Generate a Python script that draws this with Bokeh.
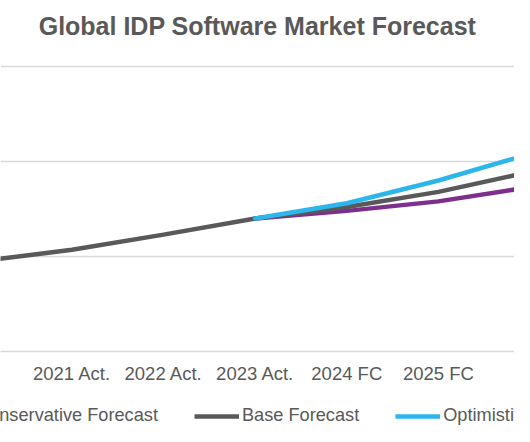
import numpy as np
from bokeh.plotting import figure
from bokeh.layouts import column
from bokeh.models import Range1d, FixedTicker, Legend, LegendItem
from bokeh.embed import file_html
from bokeh.resources import INLINE

# ---- data ----
categories = ["2020 Act.", "2021 Act.", "2022 Act.", "2023 Act.", "2024 FC", "2025 FC", "2026 FC"]
nan = np.nan
base_forecast = [0.95, 1.07, 1.23, 1.40, 1.52, 1.68, 1.89]
conservative_forecast = [nan, nan, nan, 1.40, 1.48, 1.58, 1.73]
optimistic_forecast = [nan, nan, nan, 1.40, 1.56, 1.80, 2.08]
grid_values = [1, 2, 3]

series_names = ["Conservative Forecast", "Base Forecast", "Optimistic Forecast"]
series_colors = ["#7E2F8E", "#595959", "#2DB6EC"]

x = list(range(len(categories)))

FONT = "Liberation Sans"
TXT = "#595959"

p = figure(width=514, height=386, output_backend="svg", toolbar_location=None,
           x_range=Range1d(0.2194, 5.8308), y_range=Range1d(0, 3.252),
           min_border_left=0, min_border_right=0, min_border_top=42, min_border_bottom=34)

p.title.text = "Global IDP Software Market Forecast"
p.title.align = "center"
p.title.offset = 4
p.title.text_font = FONT
p.title.text_font_size = "25px"
p.title.text_font_style = "bold"
p.title.text_color = TXT
p.title.standoff = 5

p.outline_line_color = None
p.background_fill_color = "white"
p.border_fill_color = "white"

p.yaxis.visible = False
p.ygrid.ticker = FixedTicker(ticks=grid_values)
p.ygrid.grid_line_color = "#D9D9D9"
p.ygrid.grid_line_width = 1.5
p.xgrid.visible = False

p.xaxis.ticker = FixedTicker(ticks=x)
p.xaxis.major_label_overrides = {i: c for i, c in enumerate(categories)}
p.xaxis.major_label_text_font = FONT
p.xaxis.major_label_text_font_size = "18.5px"
p.xaxis.major_label_text_color = TXT
p.xaxis.major_label_standoff = 5
p.xaxis.major_tick_line_color = None
p.xaxis.minor_tick_line_color = None
p.xaxis.axis_line_color = "#D9D9D9"
p.xaxis.axis_line_width = 1.5

data = [conservative_forecast, base_forecast, optimistic_forecast]
for vals, col in zip(data, series_colors):
    p.line(x, vals, line_color=col, line_width=4.5, line_join="round", line_cap="round")

# legend strip below the chart (hidden copies of the series provide the swatches)
lg = figure(width=514, height=40, output_backend="svg", toolbar_location=None,
            x_range=Range1d(0, 1), y_range=Range1d(0, 1),
            min_border=0, min_border_left=0, min_border_right=0, min_border_top=0, min_border_bottom=0)
lg.axis.visible = False
lg.grid.visible = False
lg.outline_line_color = None
lg.background_fill_color = "white"
lg.border_fill_color = "white"

swatches = [lg.line(x, vals, line_color=col, line_width=4.5, visible=False)
            for vals, col in zip(data, series_colors)]
legend = Legend(items=[LegendItem(label=n, renderers=[r]) for n, r in zip(series_names, swatches)],
                orientation="horizontal", location=(-72, 0))
legend.glyph_width = 45
legend.glyph_height = 20
legend.label_standoff = 3
legend.spacing = 36
legend.padding = 0
legend.margin = 0
legend.border_line_color = None
legend.background_fill_alpha = 0
legend.inactive_fill_alpha = 0
legend.label_text_font = FONT
legend.label_text_font_size = "18.2px"
legend.label_text_color = TXT
lg.add_layout(legend, "center")

layout = column(p, lg, spacing=0)
open("out.html", "w").write(file_html(layout, INLINE))
